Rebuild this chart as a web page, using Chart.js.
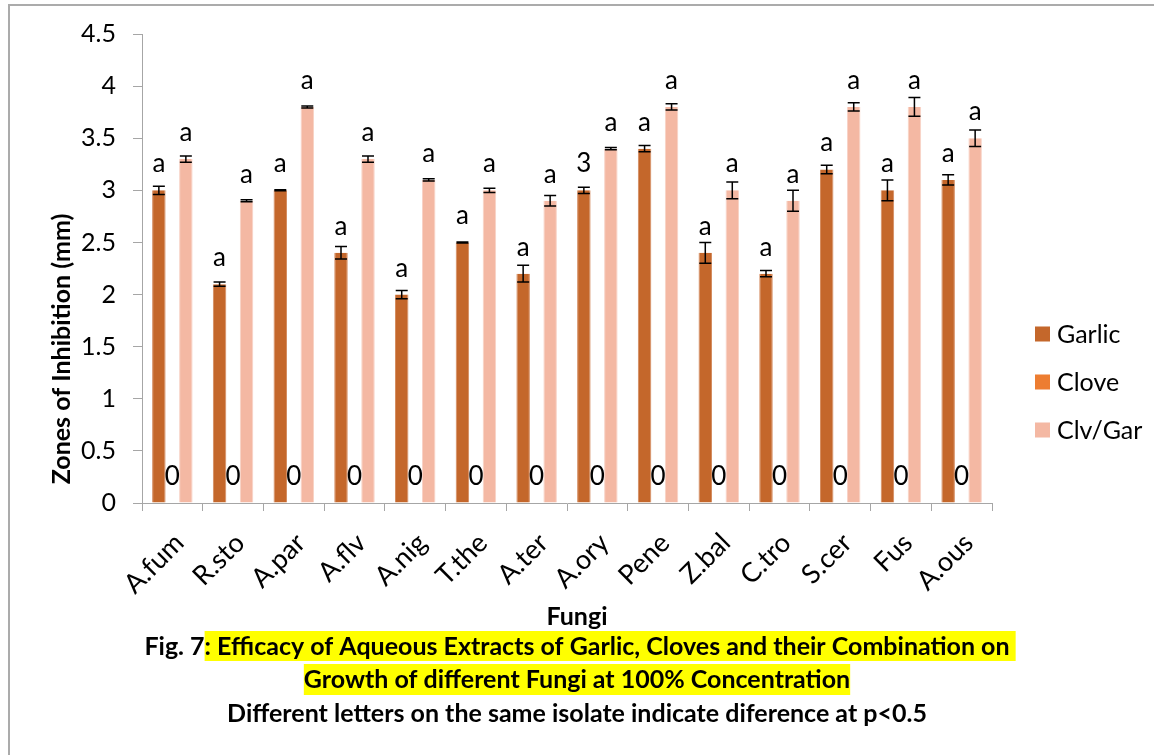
<!DOCTYPE html>
<html>
<head>
<meta charset="utf-8">
<script src="https://cdn.jsdelivr.net/npm/chart.js@4.4.1/dist/chart.umd.min.js"></script>
<style>
  html, body { margin: 0; padding: 0; background: #fff; }
  canvas { display: block; }
</style>
</head>
<body>
<canvas id="chart" width="1154" height="755"></canvas>
<script>
// Fungal isolates on the category axis
const fungi = ['A.fum', 'R.sto', 'A.par', 'A.flv', 'A.nig', 'T.the', 'A.ter',
               'A.ory', 'Pene', 'Z.bal', 'C.tro', 'S.cer', 'Fus', 'A.ous'];

// Zones of inhibition (mm) for each extract
const garlic = [3.0, 2.1, 3.0, 2.4, 2.0, 2.5, 2.2, 3.0, 3.4, 2.4, 2.2, 3.2, 3.0, 3.1];
const clove  = [0, 0, 0, 0, 0, 0, 0, 0, 0, 0, 0, 0, 0, 0];
const clvGar = [3.3, 2.9, 3.8, 3.3, 3.1, 3.0, 2.9, 3.4, 3.8, 3.0, 2.9, 3.8, 3.8, 3.5];

// Standard errors (± mm)
const garlicErr = [0.04, 0.02, 0.005, 0.06, 0.04, 0.005, 0.08, 0.03, 0.03, 0.10, 0.03, 0.04, 0.10, 0.05];
const clvGarErr = [0.03, 0.01, 0.01, 0.03, 0.01, 0.02, 0.05, 0.01, 0.03, 0.08, 0.10, 0.04, 0.09, 0.08];

// Significance letters / value labels shown above the bars
const garlicLetters = ['a', 'a', 'a', 'a', 'a', 'a', 'a', '3', 'a', 'a', 'a', 'a', 'a', 'a'];
const cloveLetters  = ['0', '0', '0', '0', '0', '0', '0', '0', '0', '0', '0', '0', '0', '0'];
const clvGarLetters = ['a', 'a', 'a', 'a', 'a', 'a', 'a', 'a', 'a', 'a', 'a', 'a', 'a', 'a'];

// Value axis ticks
const yTicks = [0, 0.5, 1, 1.5, 2, 2.5, 3, 3.5, 4, 4.5];

const yTitle = 'Zones of Inhibition (mm)';
const xTitle = 'Fungi';
const figLabel = 'Fig. 7';
const captionLine1 = ': Efficacy of Aqueous Extracts of Garlic, Cloves and their Combination on';
const captionLine2 = 'Growth of different Fungi at 100% Concentration';
const captionLine3 = 'Different letters on the same isolate indicate diference at p<0.5';

const FONT = 'Lato, "Open Sans", sans-serif';
Chart.defaults.font.family = FONT;
Chart.defaults.color = '#000';

// White background with the thin grey frame on the left and top edges
const framePlugin = {
  id: 'framePlugin',
  beforeDraw(chart) {
    const { ctx, width, height } = chart;
    ctx.save();
    ctx.fillStyle = '#fff';
    ctx.fillRect(0, 0, width, height);
    ctx.strokeStyle = '#ABABAB';
    ctx.lineWidth = 2;
    ctx.beginPath();
    ctx.moveTo(9, height);
    ctx.lineTo(9, 5);
    ctx.lineTo(width, 5);
    ctx.stroke();
    ctx.restore();
  }
};

// Error bars and letter labels on every bar
const barNotes = {
  id: 'barNotes',
  afterDatasetsDraw(chart) {
    const { ctx } = chart;
    const yScale = chart.scales.y;
    ctx.save();
    chart.data.datasets.forEach((ds, di) => {
      const meta = chart.getDatasetMeta(di);
      meta.data.forEach((bar, i) => {
        const v = ds.data[i];
        if (ds.errors) {
          const e = ds.errors[i];
          const yTop = yScale.getPixelForValue(v + e);
          const yBot = yScale.getPixelForValue(v - e);
          ctx.strokeStyle = '#000';
          ctx.lineWidth = 1.5;
          ctx.beginPath();
          ctx.moveTo(bar.x, yTop); ctx.lineTo(bar.x, yBot);
          ctx.moveTo(bar.x - 6, yTop); ctx.lineTo(bar.x + 6, yTop);
          ctx.moveTo(bar.x - 6, yBot); ctx.lineTo(bar.x + 6, yBot);
          ctx.stroke();
        }
        if (ds.letters) {
          ctx.fillStyle = '#000';
          ctx.font = '26px ' + FONT;
          ctx.textAlign = 'center';
          ctx.textBaseline = 'alphabetic';
          ctx.fillText(ds.letters[i], bar.x, bar.y - 18);
        }
      });
    });
    ctx.restore();
  }
};

// Axis titles, legend and figure caption
const textPlugin = {
  id: 'textPlugin',
  afterDraw(chart) {
    const { ctx } = chart;
    ctx.save();

    // Y-axis title
    ctx.translate(62, 349);
    ctx.rotate(-Math.PI / 2);
    ctx.font = 'bold 25px ' + FONT;
    ctx.fillStyle = '#000';
    ctx.textAlign = 'center';
    ctx.textBaseline = 'middle';
    ctx.fillText(yTitle, 0, 0);
    ctx.setTransform(1, 0, 0, 1, 0, 0);

    // Legend
    const legendY = [334, 382, 430];
    chart.data.datasets.forEach((ds, i) => {
      ctx.fillStyle = ds.backgroundColor;
      ctx.fillRect(1035, legendY[i] - 7.5, 15, 15);
      ctx.fillStyle = '#000';
      ctx.font = '25px ' + FONT;
      ctx.textAlign = 'left';
      ctx.textBaseline = 'middle';
      ctx.fillText(ds.label, 1057, legendY[i] + 1);
    });

    // X-axis title and caption
    const cx = 577;
    ctx.font = 'bold 25px ' + FONT;
    ctx.textBaseline = 'middle';
    ctx.textAlign = 'center';
    ctx.fillStyle = '#000';
    ctx.fillText(xTitle, cx, 617);

    // Line 1: label plus highlighted title
    const wFig = ctx.measureText(figLabel).width;
    const wMain = ctx.measureText(captionLine1).width;
    const wSpace = ctx.measureText(' ').width;
    const x0 = cx - (wFig + wMain) / 2;
    ctx.fillStyle = '#FFFF00';
    ctx.fillRect(x0 + wFig, 631, wMain + wSpace, 30);
    ctx.fillStyle = '#000';
    ctx.textAlign = 'left';
    ctx.fillText(figLabel, x0, 647);
    ctx.fillText(captionLine1, x0 + wFig, 647);

    // Line 2: highlighted
    const w2 = ctx.measureText(captionLine2).width;
    ctx.fillStyle = '#FFFF00';
    ctx.fillRect(cx - w2 / 2, 664, w2, 31);
    ctx.fillStyle = '#000';
    ctx.textAlign = 'center';
    ctx.fillText(captionLine2, cx, 680);

    // Line 3
    ctx.fillText(captionLine3, cx, 714);
    ctx.restore();
  }
};

new Chart(document.getElementById('chart'), {
  type: 'bar',
  data: {
    labels: fungi,
    datasets: [
      { label: 'Garlic',  data: garlic, errors: garlicErr, letters: garlicLetters,
        backgroundColor: '#C4672B', borderColor: '#D48A5E', borderWidth: { left: 1, right: 1 } },
      { label: 'Clove',   data: clove,  letters: cloveLetters,
        backgroundColor: '#ED7D31' },
      { label: 'Clv/Gar', data: clvGar, errors: clvGarErr, letters: clvGarLetters,
        backgroundColor: '#F4B8A3', borderColor: '#F8D3C6', borderWidth: { left: 1, right: 1 } }
    ]
  },
  options: {
    responsive: false,
    animation: false,
    events: [],
    layout: { padding: { left: 0, top: 34, right: 162, bottom: 0 } },
    datasets: {
      bar: { categoryPercentage: 0.667, barPercentage: 1.0 }
    },
    plugins: {
      legend: { display: false },
      tooltip: { enabled: false },
      title: { display: false }
    },
    scales: {
      x: {
        offset: true,
        grid: {
          display: true, offset: true, drawOnChartArea: false, drawTicks: true,
          tickLength: 8, color: '#A6A6A6', lineWidth: 1
        },
        border: { display: true, color: '#A6A6A6', width: 1 },
        ticks: {
          minRotation: 45, maxRotation: 45, autoSkip: false,
          padding: 16, labelOffset: 7,
          font: { size: 27, family: FONT }, color: '#000'
        },
        afterFit(scale) { scale.height = 252; }
      },
      y: {
        min: 0, max: 4.5,
        afterBuildTicks(scale) { scale.ticks = yTicks.map(v => ({ value: v })); },
        grid: {
          display: true, drawOnChartArea: false, drawTicks: true,
          tickLength: 9, color: '#A6A6A6', lineWidth: 1
        },
        border: { display: true, color: '#A6A6A6', width: 1 },
        ticks: {
          padding: 17,
          font: { size: 25, family: FONT }, color: '#000',
          callback: (v) => String(v)
        },
        afterFit(scale) { scale.width = 142; }
      }
    }
  },
  plugins: [framePlugin, barNotes, textPlugin]
});
</script>
</body>
</html>
